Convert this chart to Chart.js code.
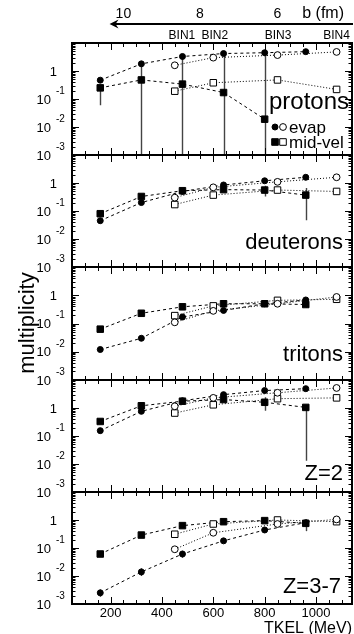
<!DOCTYPE html>
<html>
<head>
<meta charset="utf-8">
<script src="https://cdn.jsdelivr.net/npm/chart.js@4.4.0/dist/chart.umd.min.js"></script>
<style>
  html, body { margin: 0; padding: 0; background: #fff; }
  #wrap { position: relative; width: 354px; height: 634px; overflow: hidden; }
  #wrap canvas { position: absolute; left: 0; }
</style>
</head>
<body>
<div id="wrap"></div>
<script>
// TKEL (MeV) positions of the two sets of points
const tkelFilled = [160, 320, 480, 640, 800, 960];
const tkelOpen = [450, 600, 850, 1080];

// protons
const protonsEvap = [0.47, 1.8, 3.3, 4.2, 4.5, 4.9];
const protonsMid = [0.25, 0.48, 0.34, 0.17, 0.019, null];
const protonsEvapOpen = [1.6, 3.0, 3.7, 4.8];
const protonsMidOpen = [0.19, 0.38, 0.48, 0.22];
const protonsMidErrLo = [0.06, 0.001, 0.001, 0.001, 0.001, null];
const protonsMidErrHi = [0.25, 1.8, 3.3, 4.2, 4.5, null];

// deuterons
const deuteronsEvap = [0.045, 0.2, 0.5, 0.85, 1.2, 1.6];
const deuteronsMid = [0.08, 0.33, 0.53, 0.58, 0.56, 0.37];
const deuteronsEvapOpen = [0.3, 0.7, 1.1, 1.6];
const deuteronsMidOpen = [0.17, 0.37, 0.56, 0.5];
const deuteronsMidErrLo = [null, null, null, null, 0.33, 0.047];
const deuteronsMidErrHi = [null, null, null, null, 0.8, 0.66];

// tritons
const tritonsEvap = [0.012, 0.03, 0.17, 0.29, 0.5, 0.68];
const tritonsMid = [0.063, 0.23, 0.39, 0.5, 0.5, 0.47];
const tritonsEvapOpen = [0.11, 0.28, 0.5, 0.87];
const tritonsMidOpen = [0.19, 0.42, 0.66, 0.72];
const tritonsMidErrLo = [null, null, null, null, null, 0.36];
const tritonsMidErrHi = [null, null, null, null, null, 0.62];

// Z=2
const z2Evap = [0.155, 0.76, 1.8, 3.0, 4.2, 4.9];
const z2Mid = [0.33, 1.2, 1.75, 2.0, 1.6, 1.05];
const z2EvapOpen = [1.15, 2.3, 3.5, 5.2];
const z2MidOpen = [0.66, 1.3, 2.15, 2.3];
const z2MidErrLo = [null, null, null, null, 0.8, 0.013];
const z2MidErrHi = [null, null, null, null, 2.4, 1.05];

// Z=3-7
const z37Evap = [0.0025, 0.014, 0.061, 0.18, 0.44, 0.8];
const z37Mid = [0.061, 0.29, 0.63, 0.87, 0.95, 0.76];
const z37EvapOpen = [0.09, 0.35, 0.72, 1.05];
const z37MidOpen = [0.31, 0.72, 1.0, 0.87];
const z37MidErrLo = [null, null, null, null, null, 0.4];
const z37MidErrHi = [null, null, null, null, null, 1.05];
const z37EvapErrLo = [0.0018, 0.01, 0.045, 0.14, 0.36, null];
const z37EvapErrHi = [0.0033, 0.019, 0.08, 0.22, 0.52, null];

// axis labels
const yTickValues = [1, 0.1, 0.01, 0.001];
const yTickBase = ['1', '10', '10', '10'];
const yTickExp = ['', '-1', '-2', '-3'];
const xTickValues = [200, 400, 600, 800, 1000];
const bLabels = ['10', '8', '6'];
const bTkel = [250, 548, 850];
const binLabels = ['BIN1', 'BIN2', 'BIN3', 'BIN4'];
const binTkel = [478, 606, 852, 1080];

const FONT = '"Liberation Sans", Arial, Helvetica, sans-serif';
const W = 354, H = 634;
const panelTops = [43, 155, 267, 380, 492];
const panelBottom = 604;

const panels = [
  { name: 'protons', evap: protonsEvap, mid: protonsMid, evapOpen: protonsEvapOpen, midOpen: protonsMidOpen,
    midLo: protonsMidErrLo, midHi: protonsMidErrHi, nameSize: 24, nameRight: 349, nameBase: 66 },
  { name: 'deuterons', evap: deuteronsEvap, mid: deuteronsMid, evapOpen: deuteronsEvapOpen, midOpen: deuteronsMidOpen,
    midLo: deuteronsMidErrLo, midHi: deuteronsMidErrHi, nameSize: 22, nameRight: 343, nameBase: 94 },
  { name: 'tritons', evap: tritonsEvap, mid: tritonsMid, evapOpen: tritonsEvapOpen, midOpen: tritonsMidOpen,
    midLo: tritonsMidErrLo, midHi: tritonsMidErrHi, nameSize: 22, nameRight: 343, nameBase: 94 },
  { name: 'Z=2', evap: z2Evap, mid: z2Mid, evapOpen: z2EvapOpen, midOpen: z2MidOpen,
    midLo: z2MidErrLo, midHi: z2MidErrHi, nameSize: 22, nameRight: 343, nameBase: 100 },
  { name: 'Z=3-7', evap: z37Evap, mid: z37Mid, evapOpen: z37EvapOpen, midOpen: z37MidOpen,
    midLo: z37MidErrLo, midHi: z37MidErrHi, evapLo: z37EvapErrLo, evapHi: z37EvapErrHi,
    nameSize: 22, nameRight: 341, nameBase: 101 }
];

function series(xs, ys, style, filled, dash) {
  return {
    data: xs.map((x, i) => ({ x: x, y: ys[i] })),
    showLine: true,
    spanGaps: false,
    borderColor: '#000',
    borderWidth: 1,
    borderDash: dash,
    pointStyle: style,
    pointRadius: style === 'rect' ? 4.6 : (filled ? 3 : 3.4),
    pointBackgroundColor: filled ? '#000' : '#fff',
    pointBorderColor: '#000',
    pointBorderWidth: 1
  };
}

function drawErrors(chart, xs, lo, hi) {
  if (!lo) return;
  const { ctx, scales: { x, y } } = chart;
  ctx.beginPath();
  xs.forEach((v, i) => {
    if (lo[i] == null) return;
    const px = Math.round(x.getPixelForValue(v)) + 0.5;
    ctx.moveTo(px, y.getPixelForValue(Math.max(lo[i], 0.001)));
    ctx.lineTo(px, y.getPixelForValue(Math.min(hi[i], 10)));
  });
  ctx.stroke();
}

function drawMarker(ctx, style, filled, cx, cy) {
  ctx.beginPath();
  if (style === 'circle') ctx.arc(cx, cy, filled ? 3 : 3.4, 0, Math.PI * 2);
  else ctx.rect(cx - 3.3, cy - 3.3, 6.6, 6.6);
  ctx.fillStyle = filled ? '#000' : '#fff';
  ctx.fill();
  ctx.lineWidth = 1;
  ctx.strokeStyle = '#000';
  ctx.stroke();
}

function panelPlugin(p, idx) {
  return {
    id: 'panelDecor' + idx,
    beforeDatasetsDraw(chart) {
      const ctx = chart.ctx;
      ctx.save();
      ctx.strokeStyle = '#444';
      ctx.lineWidth = 1.4;
      drawErrors(chart, tkelFilled, p.midLo, p.midHi);
      drawErrors(chart, tkelFilled, p.evapLo, p.evapHi);
      ctx.restore();
    },
    afterDraw(chart) {
      const { ctx, chartArea: a, scales: { x, y } } = chart;
      ctx.save();
      ctx.strokeStyle = '#000';
      ctx.lineWidth = 1;

      // inward ticks
      ctx.beginPath();
      for (let v = 100; v <= 1100; v += 50) {
        const px = Math.round(x.getPixelForValue(v)) + 0.5;
        const len = v % 200 === 0 ? 7 : 4;
        ctx.moveTo(px, a.top); ctx.lineTo(px, a.top + len);
        ctx.moveTo(px, a.bottom); ctx.lineTo(px, a.bottom - len);
      }
      for (let d = -3; d < 1; d++) {
        for (let k = 1; k <= 9; k++) {
          const py = Math.round(y.getPixelForValue(k * Math.pow(10, d))) + 0.5;
          const len = k === 1 ? 7 : 3.5;
          ctx.moveTo(a.left, py); ctx.lineTo(a.left + len, py);
          ctx.moveTo(a.right, py); ctx.lineTo(a.right - len, py);
        }
      }
      ctx.stroke();

      // frame
      ctx.lineWidth = 2;
      ctx.strokeRect(a.left, a.top, a.right - a.left, a.bottom - a.top);

      // y tick labels
      ctx.fillStyle = '#000';
      ctx.textBaseline = 'middle';
      yTickValues.forEach((v, i) => {
        const py = y.getPixelForValue(v);
        ctx.textAlign = 'right';
        ctx.font = '13px ' + FONT;
        if (yTickExp[i] === '') {
          ctx.fillText(yTickBase[i], 57, py + 1);
        } else {
          ctx.fillText(yTickBase[i], 51, py + 1);
          ctx.textAlign = 'left';
          ctx.font = '10px ' + FONT;
          ctx.fillText(yTickExp[i], 56, py - 8);
        }
      });

      // panel name
      ctx.textBaseline = 'alphabetic';
      ctx.textAlign = 'right';
      ctx.font = p.nameSize + 'px ' + FONT;
      ctx.fillText(p.name, p.nameRight, a.top + p.nameBase);

      if (idx === 0) {
        // legend
        const rows = [['circle', 'evap', a.top + 84], ['rect', 'mid-vel', a.top + 99]];
        rows.forEach(r => {
          drawMarker(ctx, r[0], true, 275, r[2]);
          drawMarker(ctx, r[0], false, 283, r[2]);
          ctx.fillStyle = '#000';
          ctx.textAlign = 'left';
          ctx.textBaseline = 'middle';
          ctx.font = '17px ' + FONT;
          ctx.fillText(r[1], 289, r[2] + 1);
        });

        // impact parameter axis
        const x0 = x.getPixelForValue(200);
        ctx.lineWidth = 2;
        ctx.beginPath();
        ctx.moveTo(x0 + 4, 24); ctx.lineTo(353, 24);
        ctx.stroke();
        ctx.beginPath();
        ctx.moveTo(x0 - 1, 24); ctx.lineTo(x0 + 8, 19.5); ctx.lineTo(x0 + 5, 24); ctx.lineTo(x0 + 8, 28.5);
        ctx.closePath();
        ctx.fill();
        ctx.textBaseline = 'alphabetic';
        ctx.textAlign = 'center';
        ctx.font = '14px ' + FONT;
        bLabels.forEach((t, i) => ctx.fillText(t, x.getPixelForValue(bTkel[i]), 18));
        ctx.textAlign = 'right';
        ctx.font = '16px ' + FONT;
        ctx.fillText('b (fm)', 344, 18);
        ctx.textAlign = 'center';
        ctx.font = '12px ' + FONT;
        binLabels.forEach((t, i) => {
          const px = x.getPixelForValue(binTkel[i]);
          ctx.fillText(t, Math.min(px, 352 - ctx.measureText(t).width / 2), 39);
        });
      }

      if (idx === 2) {
        ctx.save();
        ctx.translate(28, 323 - chart.canvas.offsetTop);
        ctx.rotate(-Math.PI / 2);
        ctx.textAlign = 'center';
        ctx.textBaseline = 'middle';
        ctx.font = '22px ' + FONT;
        ctx.fillText('multiplicity', 0, 0);
        ctx.restore();
      }

      if (idx === 4) {
        const off = chart.canvas.offsetTop;
        ctx.textAlign = 'center';
        ctx.textBaseline = 'alphabetic';
        ctx.font = '13px ' + FONT;
        xTickValues.forEach(v => ctx.fillText(String(v), x.getPixelForValue(v), 617 - off));
        ctx.textAlign = 'right';
        ctx.font = '16px ' + FONT;
        ctx.fillText('TKEL (MeV)', 352, 633 - off);
      }
      ctx.restore();
    }
  };
}

const wrap = document.getElementById('wrap');

panels.forEach((p, idx) => {
  const top = panelTops[idx];
  const bottom = idx < 4 ? panelTops[idx + 1] : panelBottom;
  const canvasTop = idx === 0 ? 0 : top - 12;
  const canvasBottom = idx === 4 ? H : bottom + 12;
  const h = canvasBottom - canvasTop;

  const canvas = document.createElement('canvas');
  canvas.width = W;
  canvas.height = h;
  canvas.style.top = canvasTop + 'px';
  canvas.style.width = W + 'px';
  canvas.style.height = h + 'px';
  wrap.appendChild(canvas);

  new Chart(canvas.getContext('2d'), {
    type: 'line',
    data: {
      datasets: [
        series(tkelOpen, p.evapOpen, 'circle', false, [1, 2]),
        series(tkelOpen, p.midOpen, 'rect', false, [1, 2]),
        series(tkelFilled, p.mid, 'rect', true, [3, 3]),
        series(tkelFilled, p.evap, 'circle', true, [3, 3])
      ]
    },
    options: {
      responsive: false,
      animation: false,
      events: [],
      layout: {
        autoPadding: false,
        padding: { left: 72, right: 2, top: top - canvasTop, bottom: canvasBottom - bottom }
      },
      plugins: { legend: { display: false }, tooltip: { enabled: false } },
      scales: {
        x: { type: 'linear', min: 50, max: 1140, display: false },
        y: { type: 'logarithmic', min: 0.001, max: 10, display: false }
      }
    },
    plugins: [panelPlugin(p, idx)]
  });
});
</script>
</body>
</html>
